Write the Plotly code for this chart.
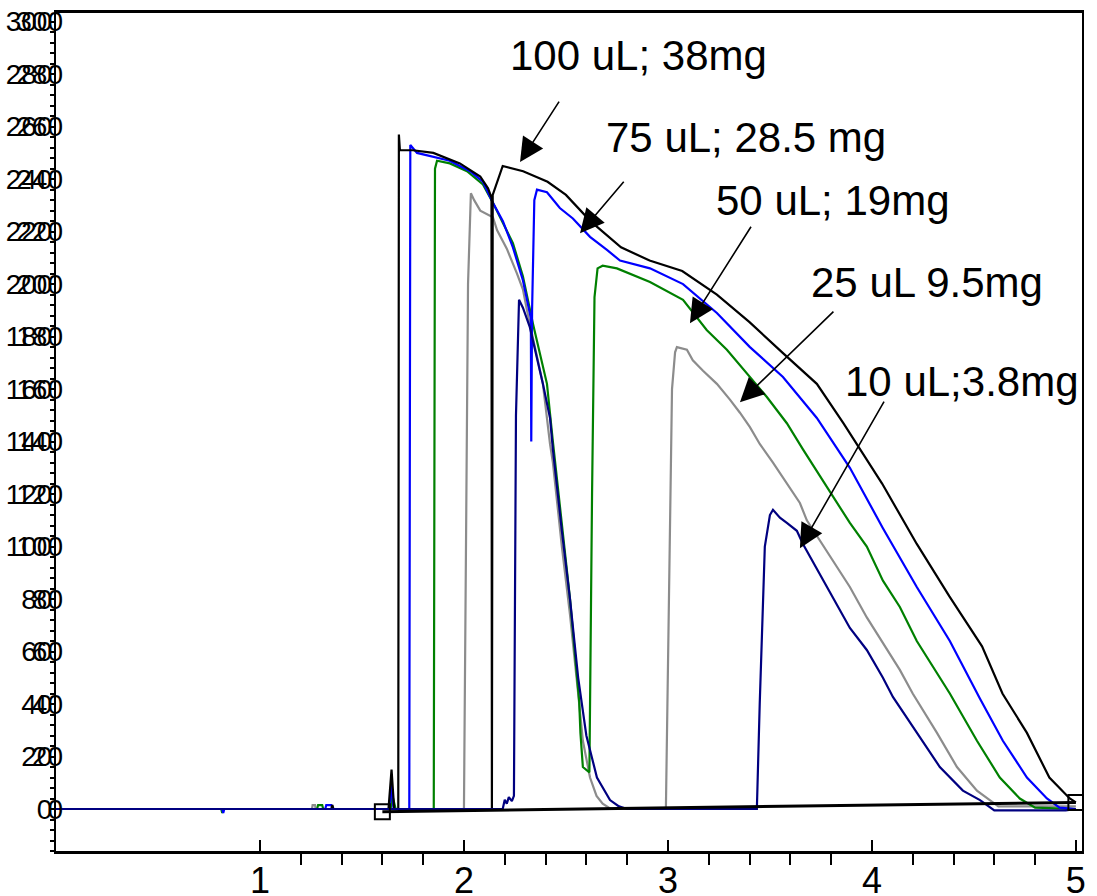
import plotly.graph_objects as go

# ---------------- data ----------------
BLACK_X = [0, 1.35, 1.355, 1.36, 1.63, 1.645, 1.658, 1.678, 1.681, 1.686, 1.75, 1.85, 1.98, 2.08,
           2.118, 2.135, 2.137, 2.141, 2.19, 2.29, 2.41, 2.5, 2.62, 2.77, 2.91, 3.07, 3.24, 3.40,
           3.56, 3.73, 3.86, 3.91, 4.05, 4.22, 4.38, 4.54, 4.64, 4.76, 4.87, 4.97, 5.0]
BLACK_Y = [0, 0, 1.5, 0, 0, 15, 0, 0, 257, 251, 251, 250, 246, 241,
           236.5, 233, 0, 234, 245, 243, 239, 234, 224, 214, 209, 205, 196, 185.5,
           174, 162, 147, 141, 124, 101, 81, 62, 44, 29, 12, 4, 2.5]

BLUE_X = [0, 0.815, 0.82, 0.825, 1.32, 1.325, 1.35, 1.355, 1.635, 1.645, 1.655, 1.732, 1.737,
          1.77, 1.93, 2.03, 2.093, 2.142, 2.191, 2.24, 2.289, 2.328, 2.330, 2.334, 2.345, 2.358,
          2.407, 2.47, 2.534, 2.618, 2.701, 2.765, 2.912, 3.074, 3.24, 3.402, 3.564, 3.73, 3.892,
          4.054, 4.22, 4.382, 4.53, 4.642, 4.76, 4.858, 4.92, 5.0]
BLUE_Y = [0, 0, -1.5, 0, 0, 1.5, 1.5, 0, 0, 10, 0, 0, 253,
          250, 247, 243, 239, 231, 224, 214, 201.5, 187, 140, 190, 232, 236,
          235, 229, 225, 218, 213, 209, 206, 200, 189, 176, 164.6, 149, 130,
          107, 84.6, 64, 42, 26, 12, 4, 0.5, 0]

GREEN_X = [0, 0.81, 0.815, 0.82, 1.28, 1.285, 1.305, 1.31, 1.64, 1.65, 1.665, 1.852, 1.858,
           1.868, 1.931, 2.015, 2.093, 2.142, 2.24, 2.289, 2.338, 2.407, 2.436, 2.48, 2.52,
           2.565, 2.571, 2.583, 2.615, 2.628, 2.64, 2.655, 2.68, 2.75, 2.912, 3.074, 3.19, 3.289,
           3.387, 3.485, 3.583, 3.662, 3.892, 3.975, 4.054, 4.137, 4.22, 4.299, 4.382, 4.515,
           4.627, 4.725, 4.8, 5.0]
GREEN_Y = [0, 0, -1.5, 0, 0, 1.5, 1.5, 0, 0, 5, 0, 0, 244,
           247, 246, 243, 238, 231, 215.6, 203, 185, 162, 140, 108, 80,
           41, 29, 16, 14, 120, 195, 206, 207, 206, 200.8, 194, 182.5, 175,
           166, 157, 147, 137, 109, 100, 87, 77, 64, 54, 44, 26,
           12, 4, 0.5, 0]

GRAY_X = [0, 1.255, 1.258, 1.27, 1.273, 1.64, 1.648, 1.66, 2.0, 2.02, 2.034, 2.05, 2.08, 2.142,
          2.162, 2.21, 2.26, 2.289, 2.309, 2.338, 2.387, 2.422, 2.436, 2.48, 2.52, 2.56, 2.583,
          2.618, 2.65, 2.68, 2.72, 2.99, 3.0, 3.02, 3.035, 3.044, 3.093, 3.122, 3.172, 3.24,
          3.304, 3.353, 3.402, 3.451, 3.515, 3.583, 3.647, 3.681, 3.78, 3.892, 3.975, 4.054,
          4.137, 4.2, 4.319, 4.417, 4.515, 4.578, 4.62, 5.0]
GRAY_Y = [0, 0, 1.5, 1.5, 0, 0, 3, 0, 0, 200, 234.6, 232, 228, 225.5,
          220.6, 213.5, 204, 198, 190, 180, 162, 139, 132, 100, 74, 44, 26,
          12, 5, 2, 0, 0, 50, 160, 174, 176, 175, 171, 167, 162,
          156, 151, 145.5, 139, 132, 124, 116.6, 110, 98, 84.6, 73, 63,
          53, 44, 29, 16, 7, 3.4, 1, 1]

NAVY_X = [0, 2.19, 2.2, 2.21, 2.22, 2.235, 2.245, 2.255, 2.27, 2.289, 2.323, 2.358, 2.387, 2.422,
          2.436, 2.48, 2.52, 2.56, 2.6, 2.652, 2.716, 2.76, 2.8, 3.436, 3.45, 3.475, 3.5, 3.515,
          3.549, 3.583, 3.632, 3.662, 3.77, 3.892, 3.975, 4.054, 4.103, 4.22, 4.333, 4.446, 4.53,
          4.6, 4.95, 5.0]
NAVY_Y = [0, 0, 3.5, 2, 4.5, 3, 5, 150, 194, 191, 183.6, 172, 162, 149,
          137, 106, 80, 50, 28, 12, 3.4, 1, 0, 0, 40, 100, 112, 114,
          111, 109, 106, 101, 86, 69, 60.6, 50, 42.7, 29, 16, 7, 3.4,
          -0.5, -0.5, 0]

BASE_X = [1.6, 5.0]
BASE_Y = [-1, 2.5]

X_TICKS = [1, 2, 3, 4, 5]
X_MINOR = [1.2, 1.4, 1.6, 1.8, 2.2, 2.4, 2.6, 2.8, 3.2, 3.4, 3.6, 3.8, 4.2, 4.4, 4.6, 4.8]
Y_TICKS = list(range(0, 301, 20))
Y_TICK_TEXT = [str(v) for v in Y_TICKS]

LABELS = ["100 uL; 38mg", "75 uL; 28.5 mg", "50 uL; 19mg", "25 uL 9.5mg", "10 uL;3.8mg"]

# ---------------- figure ----------------
FONT = "Liberation Sans, Arial, sans-serif"
fig = go.Figure()

series = [
    (GRAY_X, GRAY_Y, "#8c8c8c", "25 uL"),
    (GREEN_X, GREEN_Y, "#008000", "50 uL"),
    (BLUE_X, BLUE_Y, "#0000ff", "75 uL"),
    (BLACK_X, BLACK_Y, "#000000", "100 uL"),
    (NAVY_X, NAVY_Y, "#000080", "10 uL"),
]
for xs, ys, col, nm in series:
    fig.add_trace(go.Scatter(x=xs, y=ys, mode="lines", name=nm,
                             line=dict(color=col, width=2.2), showlegend=False))

fig.add_trace(go.Scatter(x=BASE_X, y=BASE_Y, mode="lines+markers", showlegend=False,
                         line=dict(color="black", width=3),
                         marker=dict(symbol="square-open", size=15, color="black",
                                     line=dict(width=2, color="black"))))

# empty trace so the duplicated label axis renders
fig.add_trace(go.Scatter(x=[], y=[], yaxis="y2", showlegend=False))

# label annotations (text + separate arrows)
text_pos = [(2.858, 287.2), (3.382, 256), (3.809, 232), (4.27, 200.8), (4.441, 163)]
arrow_heads = [(2.275, 246.5, 40, -62), (2.569, 219.4, 45, -53), (3.108, 185.1, 62, -98),
               (3.353, 155.0, 95, -92), (3.647, 99.4, 85, -148)]
for lab, (tx, ty), (hx, hy, ax, ay) in zip(LABELS, text_pos, arrow_heads):
    fig.add_annotation(x=tx, y=ty, xref="x", yref="y", text=lab, showarrow=False,
                       font=dict(family=FONT, size=42, color="black"))
    fig.add_annotation(x=hx, y=hy, xref="x", yref="y", text="", showarrow=True,
                       ax=ax, ay=ay, arrowhead=2, arrowsize=3, arrowwidth=1.6,
                       arrowcolor="black")

fig.update_layout(
    width=1097, height=896,
    margin=dict(l=56, r=15, t=13, b=45, autoexpand=False),
    paper_bgcolor="white", plot_bgcolor="white",
    showlegend=False,
    xaxis=dict(range=[0, 5.03], showline=True, linewidth=3, linecolor="black", mirror=True,
               showgrid=False, zeroline=False, tickmode="array", tickvals=X_TICKS,
               ticks="inside", ticklen=11, tickwidth=2, tickcolor="black",
               ticklabelstandoff=-4, automargin=False,
               tickfont=dict(family=FONT, size=36, color="black"),
               minor=dict(tickmode="array", tickvals=X_MINOR, ticks="outside", ticklen=11,
                          tickwidth=2, tickcolor="black", showgrid=False)),
    yaxis=dict(range=[-16, 303.3], showline=True, linewidth=2, linecolor="black", mirror=True,
               showgrid=False, zeroline=False, tickmode="array", tickvals=Y_TICKS,
               ticktext=Y_TICK_TEXT, ticks="", ticklabelstandoff=-4, automargin=False,
               tickfont=dict(family=FONT, size=28, color="black"),
               minor=dict(dtick=4, tick0=0, ticks="outside", ticklen=4, tickwidth=2,
                          tickcolor="black", showgrid=False)),
    yaxis2=dict(range=[-16, 303.3], overlaying="y", side="left", anchor="x",
                showline=False, showgrid=False, zeroline=False, tickmode="array",
                tickvals=Y_TICKS, ticktext=Y_TICK_TEXT, ticks="", ticklabelstandoff=-8,
                automargin=False,
                tickfont=dict(family=FONT, size=28, color="black")),
)

fig.write_html("out.html", config={"displayModeBar": False},
               post_script="document.body.style.margin='0';document.body.style.overflow='hidden';")
